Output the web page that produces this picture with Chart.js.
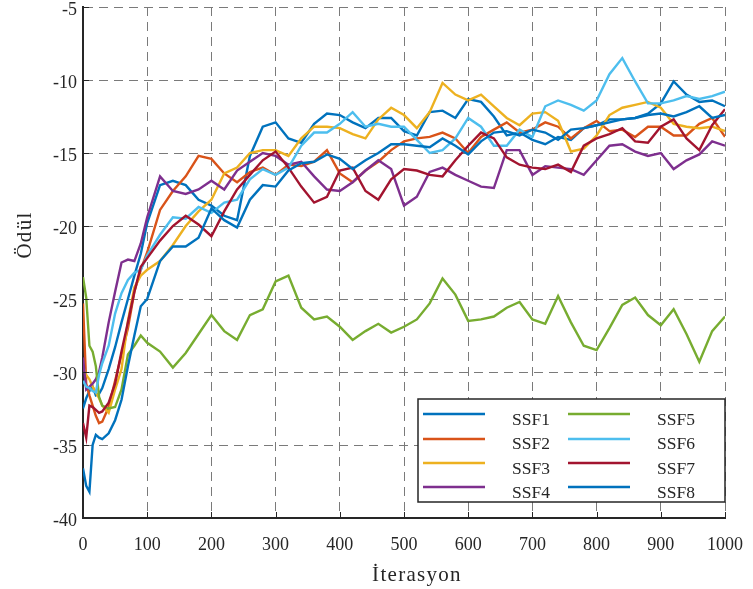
<!DOCTYPE html>
<html>
<head>
<meta charset="utf-8">
<script src="https://cdn.jsdelivr.net/npm/chart.js@4.4.1/dist/chart.umd.min.js"></script>
<style>
html, body { margin: 0; padding: 0; background: #fff; }
</style>
</head>
<body>
<canvas id="grafik" width="753" height="589"></canvas>
<script>
// iterasyon noktalari (x ekseni)
var iterasyon = [0,5,10,15,20,25,30,40,50,60,70,80,90,100,
  120,140,160,180,200,220,240,260,280,300,320,340,360,380,400,420,440,460,480,500,
  520,540,560,580,600,620,640,660,680,700,720,740,760,780,800,820,840,860,880,900,
  920,940,960,980,1000]

var ssf1 = [-32.5,-31.8,-31.3,-31.0,-31.6,-31.5,-31.1,-29.8,-28.3,-26.6,-25.0,-23.4,-21.9,-19.8,
  -17.2,-16.9,-17.2,-18.2,-18.6,-19.3,-19.6,-15.2,-13.2,-12.9,-14.0,-14.3,-13.0,-12.3,-12.4,-12.9,-13.3,-12.6,-12.6,-13.5,
  -13.8,-12.2,-12.1,-12.6,-11.3,-11.5,-12.5,-13.8,-13.6,-14.1,-14.4,-13.9,-14.1,-13.3,-13.1,-12.7,-12.7,-12.6,-12.3,-11.6,
  -10.1,-11.0,-11.5,-11.4,-11.8]
var ssf2 = [-25.3,-30.8,-31.6,-32.3,-33.0,-33.5,-33.4,-32.4,-30.6,-28.8,-27.0,-24.5,-23.0,-21.8,
  -18.9,-17.6,-16.6,-15.2,-15.4,-16.4,-17.0,-16.3,-16.0,-16.5,-15.8,-15.9,-15.6,-14.8,-16.4,-17.0,-16.2,-15.6,-14.8,-14.2,
  -14.0,-13.9,-13.6,-14.0,-15.0,-13.9,-13.4,-12.9,-13.6,-13.4,-12.9,-13.2,-14.0,-13.3,-12.8,-13.5,-13.4,-13.9,-13.2,-13.2,
  -13.8,-13.8,-13.0,-12.6,-13.9]
var ssf3 = [-29.6,-30.2,-30.5,-31.0,-31.4,-31.8,-32.3,-32.8,-31.2,-29.8,-26.5,-24.2,-23.4,-23.0,
  -22.4,-21.3,-20.0,-19.0,-18.2,-16.4,-16.0,-15.0,-14.8,-14.8,-15.2,-14.0,-13.2,-13.2,-13.3,-13.7,-14.0,-12.7,-11.9,-12.4,
  -13.3,-12.2,-10.2,-11.0,-11.4,-11.0,-11.8,-12.6,-13.1,-12.3,-12.2,-12.8,-14.9,-14.7,-13.8,-12.4,-11.9,-11.7,-11.5,-11.9,
  -13.0,-13.2,-13.3,-13.2,-13.5]
var ssf4 = [-29.0,-31.2,-31.0,-30.8,-30.5,-30.0,-29.0,-26.6,-24.5,-22.5,-22.3,-22.4,-21.2,-19.4,
  -16.6,-17.6,-17.8,-17.5,-16.9,-17.5,-16.2,-15.6,-15.0,-15.2,-15.8,-15.6,-16.6,-17.5,-17.6,-17.0,-16.2,-15.5,-16.1,-18.6,
  -18.0,-16.3,-16.0,-16.5,-16.9,-17.3,-17.4,-14.8,-14.8,-16.5,-15.9,-16.0,-16.1,-16.5,-15.5,-14.5,-14.4,-14.9,-15.2,-15.0,
  -16.1,-15.5,-15.1,-14.2,-14.5]
var ssf5 = [-23.5,-24.9,-28.2,-28.6,-29.6,-31.7,-32.3,-32.5,-32.4,-31.2,-28.8,-28.2,-27.5,-28.0,
  -28.6,-29.7,-28.7,-27.4,-26.1,-27.2,-27.8,-26.1,-25.7,-23.8,-23.4,-25.6,-26.4,-26.2,-26.9,-27.8,-27.2,-26.7,-27.3,-26.9,
  -26.4,-25.3,-23.6,-24.7,-26.5,-26.4,-26.2,-25.6,-25.2,-26.4,-26.7,-24.8,-26.6,-28.2,-28.5,-27.0,-25.4,-24.9,-26.1,-26.8,
  -25.7,-27.4,-29.3,-27.2,-26.2]
var ssf6 = [-30.6,-31.0,-31.1,-31.3,-31.4,-30.2,-29.4,-28.2,-26.0,-24.6,-23.7,-23.2,-23.0,-22.0,
  -20.6,-19.4,-19.5,-18.7,-19.1,-18.4,-18.2,-16.8,-16.1,-16.5,-16.0,-14.5,-13.6,-13.6,-13.0,-12.2,-13.2,-13.0,-13.2,-13.2,
  -14.1,-15.0,-14.8,-14.0,-12.6,-13.2,-14.5,-14.5,-13.4,-13.9,-11.8,-11.4,-11.7,-12.1,-11.4,-9.6,-8.5,-10.1,-11.6,-11.6,
  -11.4,-11.1,-11.3,-11.1,-10.8]
var ssf7 = [-33.5,-34.5,-32.3,-32.4,-32.6,-32.8,-32.7,-32.1,-30.8,-28.6,-26.6,-24.5,-22.8,-22.2,
  -21.0,-20.0,-19.3,-19.9,-20.7,-19.0,-17.5,-16.5,-15.5,-14.9,-16.0,-17.3,-18.4,-18.0,-16.2,-16.0,-17.6,-18.2,-16.8,-16.1,
  -16.2,-16.5,-16.6,-15.5,-14.5,-13.6,-14.0,-15.3,-15.8,-16.0,-16.1,-15.8,-16.3,-14.5,-14.0,-13.7,-13.3,-14.2,-14.3,-13.2,
  -12.7,-14.0,-14.8,-13.1,-12.0]
var ssf8 = [-36.6,-37.8,-38.2,-35.0,-34.3,-34.5,-34.6,-34.2,-33.3,-31.9,-29.6,-27.5,-25.5,-25.0,
  -22.4,-21.4,-21.4,-20.8,-18.8,-19.6,-20.1,-18.2,-17.2,-17.3,-16.2,-15.7,-15.6,-15.1,-15.4,-16.1,-15.5,-15.0,-14.4,-14.4,
  -14.5,-14.6,-14.0,-14.5,-15.1,-14.2,-13.6,-13.5,-13.8,-13.4,-13.6,-14.1,-13.4,-13.3,-13.1,-12.9,-12.7,-12.6,-12.4,-12.3,
  -12.5,-12.2,-11.8,-12.6,-12.4]

var etiketler = ["SSF1", "SSF2", "SSF3", "SSF4", "SSF5", "SSF6", "SSF7", "SSF8"]
var renkler = ["#0072BD", "#D95319", "#EDB120", "#7E2F8E", "#77AC30", "#4DBEEE", "#A2142F", "#0072BD"]
var xTicks = [0,100,200,300,400,500,600,700,800,900,1000]
var yTicks = [-40,-35,-30,-25,-20,-15,-10,-5]

var seriler = [ssf1, ssf2, ssf3, ssf4, ssf5, ssf6, ssf7, ssf8]
var yazi = "'Liberation Serif', 'Times New Roman', serif"
var koyu = "#262626"
var izgara = "#7a7a7a"

var datasets = []
for (var i = 0; i < seriler.length; i++) {
  datasets.push({
    label: etiketler[i],
    data: iterasyon.map(function (x, j) { return { x: x, y: seriler[i][j] } }),
    borderColor: renkler[i],
    borderWidth: 2.4,
    pointRadius: 0,
    tension: 0,
    fill: false,
    order: seriler.length - i
  })
}

// ice dogru tick cizgileri, eksen basliklari ve lejant
var eklenti = {
  id: "matlabStil",
  afterDraw: function (chart) {
    var ctx = chart.ctx
    var xs = chart.scales.x
    var ys = chart.scales.y
    var a = chart.chartArea
    ctx.save()
    ctx.strokeStyle = koyu
    ctx.lineWidth = 1
    xTicks.forEach(function (v) {
      var px = Math.round(xs.getPixelForValue(v)) + 0.5
      ctx.beginPath(); ctx.moveTo(px, a.bottom); ctx.lineTo(px, a.bottom - 6); ctx.stroke()
    })
    yTicks.forEach(function (v) {
      var py = Math.round(ys.getPixelForValue(v)) + 0.5
      ctx.beginPath(); ctx.moveTo(a.left, py); ctx.lineTo(a.left + 6, py); ctx.stroke()
    })

    // eksen basliklari
    ctx.fillStyle = koyu
    ctx.font = "21px " + yazi
    ctx.letterSpacing = "1.3px"
    ctx.textAlign = "center"
    ctx.textBaseline = "middle"
    ctx.fillText("İterasyon", 417, 575)
    ctx.save()
    ctx.translate(25, 235)
    ctx.rotate(-Math.PI / 2)
    ctx.fillText("Ödül", 0, 0)
    ctx.restore()
    ctx.letterSpacing = "0px"

    // lejant kutusu
    var kx = 418, ky = 399, kw = 307, kh = 103
    ctx.fillStyle = "#fff"
    ctx.fillRect(kx, ky, kw, kh)
    ctx.strokeStyle = koyu
    ctx.lineWidth = 1.5
    ctx.strokeRect(kx, ky, kw, kh)
    var cizgiY = [414, 439, 463, 487]
    var yaziY = [425, 449, 474, 498]
    ctx.font = "17.5px " + yazi
    ctx.textAlign = "left"
    ctx.textBaseline = "alphabetic"
    for (var k = 0; k < etiketler.length; k++) {
      var kol = Math.floor(k / 4), sat = k % 4
      var x0 = kol === 0 ? 423 : 568
      var tx = kol === 0 ? 512 : 657
      ctx.strokeStyle = renkler[k]
      ctx.lineWidth = 2.4
      ctx.beginPath(); ctx.moveTo(x0, cizgiY[sat]); ctx.lineTo(x0 + 62, cizgiY[sat]); ctx.stroke()
      ctx.fillStyle = koyu
      ctx.fillText(etiketler[k], tx, yaziY[sat])
    }
    ctx.restore()
  }
}

new Chart(document.getElementById("grafik"), {
  type: "line",
  data: { datasets: datasets },
  options: {
    responsive: false,
    animation: false,
    layout: { padding: { left: 0, right: 28, top: 7, bottom: 0 } },
    plugins: { legend: { display: false }, tooltip: { enabled: false } },
    scales: {
      x: {
        type: "linear",
        min: 0,
        max: 1000,
        afterBuildTicks: function (s) { s.ticks = xTicks.map(function (v) { return { value: v } }) },
        afterFit: function (s) { s.height = 71; s.paddingLeft = 0; s.paddingRight = 0 },
        ticks: {
          color: koyu, font: { family: yazi, size: 18 }, padding: 16, maxRotation: 0, autoSkip: false,
          callback: function (v) { return String(v) }
        },
        grid: { color: izgara, lineWidth: 1, drawTicks: false },
        border: { display: true, color: koyu, width: 2, dash: [9, 6] }
      },
      y: {
        min: -40,
        max: -5,
        afterBuildTicks: function (s) { s.ticks = yTicks.map(function (v) { return { value: v } }) },
        afterFit: function (s) { s.width = 83; s.paddingTop = 0; s.paddingBottom = 0 },
        ticks: {
          color: koyu, font: { family: yazi, size: 18 }, padding: 6, autoSkip: false, labelOffset: 3,
          callback: function (v) { return String(v) }
        },
        grid: { color: izgara, lineWidth: 1, drawTicks: false },
        border: { display: true, color: koyu, width: 2, dash: [9, 6] }
      }
    }
  },
  plugins: [eklenti]
})
</script>
</body>
</html>
